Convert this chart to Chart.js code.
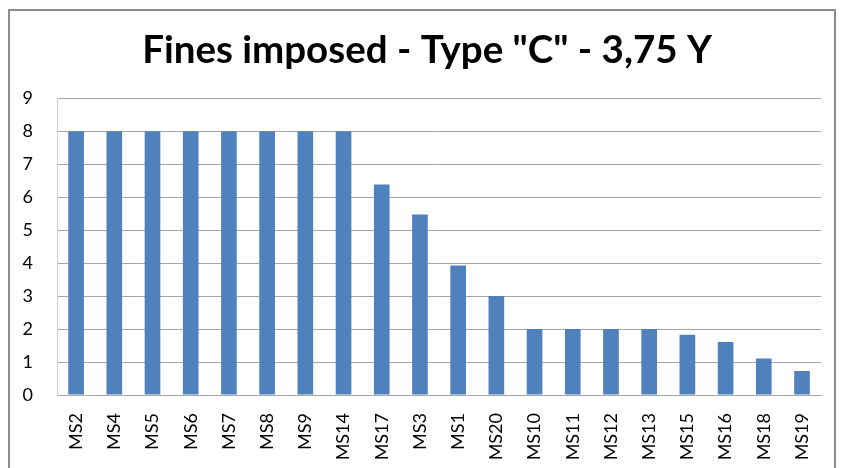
<!DOCTYPE html>
<html><head><meta charset="utf-8">
<script src="https://cdn.jsdelivr.net/npm/chart.js@4.4.0/dist/chart.umd.min.js"></script>
<style>html,body{margin:0;padding:0;background:#fff;}#wrap{width:842px;height:468px;position:relative;}</style>
</head><body><div id="wrap"><canvas id="c" width="842" height="468"></canvas></div>
<script>
const categories = ["MS2","MS4","MS5","MS6","MS7","MS8","MS9","MS14","MS17","MS3","MS1","MS20","MS10","MS11","MS12","MS13","MS15","MS16","MS18","MS19"];
const fines = [8,8,8,8,8,8,8,8,6.38,5.47,3.93,3,2,2,2,2,1.83,1.61,1.11,0.73];
const yTicks = [0,1,2,3,4,5,6,7,8,9];
const titleText = 'Fines imposed - Type "C" - 3,75 Y';

const frame = {
  id: 'frame',
  afterLayout(chart) {
    const t = chart.titleBlock;
    if (t) { t.left += 8; t.right += 8; }
  },
  beforeDraw(chart) {
    const ctx = chart.ctx;
    ctx.save();
    ctx.strokeStyle = '#8c8c8c';
    ctx.lineWidth = 2;
    ctx.strokeRect(9, 10, 826, 480);
    ctx.restore();
  }
};

new Chart(document.getElementById('c'), {
  type: 'bar',
  data: { labels: categories, datasets: [{ data: fines, backgroundColor: '#4f81bd', borderWidth: 0, barPercentage: 0.41, categoryPercentage: 1 }] },
  options: {
    responsive: false, animation: false,
    layout: { padding: { left: 12, right: 16, top: 0, bottom: 0 } },
    plugins: {
      legend: { display: false }, tooltip: { enabled: false },
      title: { display: true, text: titleText, color: '#000', font: { family: 'Lato', weight: 'bold', size: 38.5, lineHeight: 1.2 }, padding: { top: 27, bottom: 25 } }
    },
    scales: {
      x: {
        afterFit(s) { s.height = 73; },
        grid: { display: false, drawTicks: false },
        border: { color: '#a6a6a6', width: 1 },
        ticks: { color: '#000', font: { family: 'Lato', size: 18 }, minRotation: 90, maxRotation: 90, padding: 18, autoSkip: false }
      },
      y: {
        min: 0, max: 9,
        afterBuildTicks(s) { s.ticks = yTicks.map(v => ({ value: v })); },
        afterFit(s) { s.width = 45; },
        grid: { color: '#a6a6a6', drawTicks: false },
        border: { color: '#d0d0d0', width: 1 },
        ticks: { color: '#000', font: { family: 'Lato', size: 18 }, padding: 24 }
      }
    }
  },
  plugins: [frame]
});
</script></body></html>
